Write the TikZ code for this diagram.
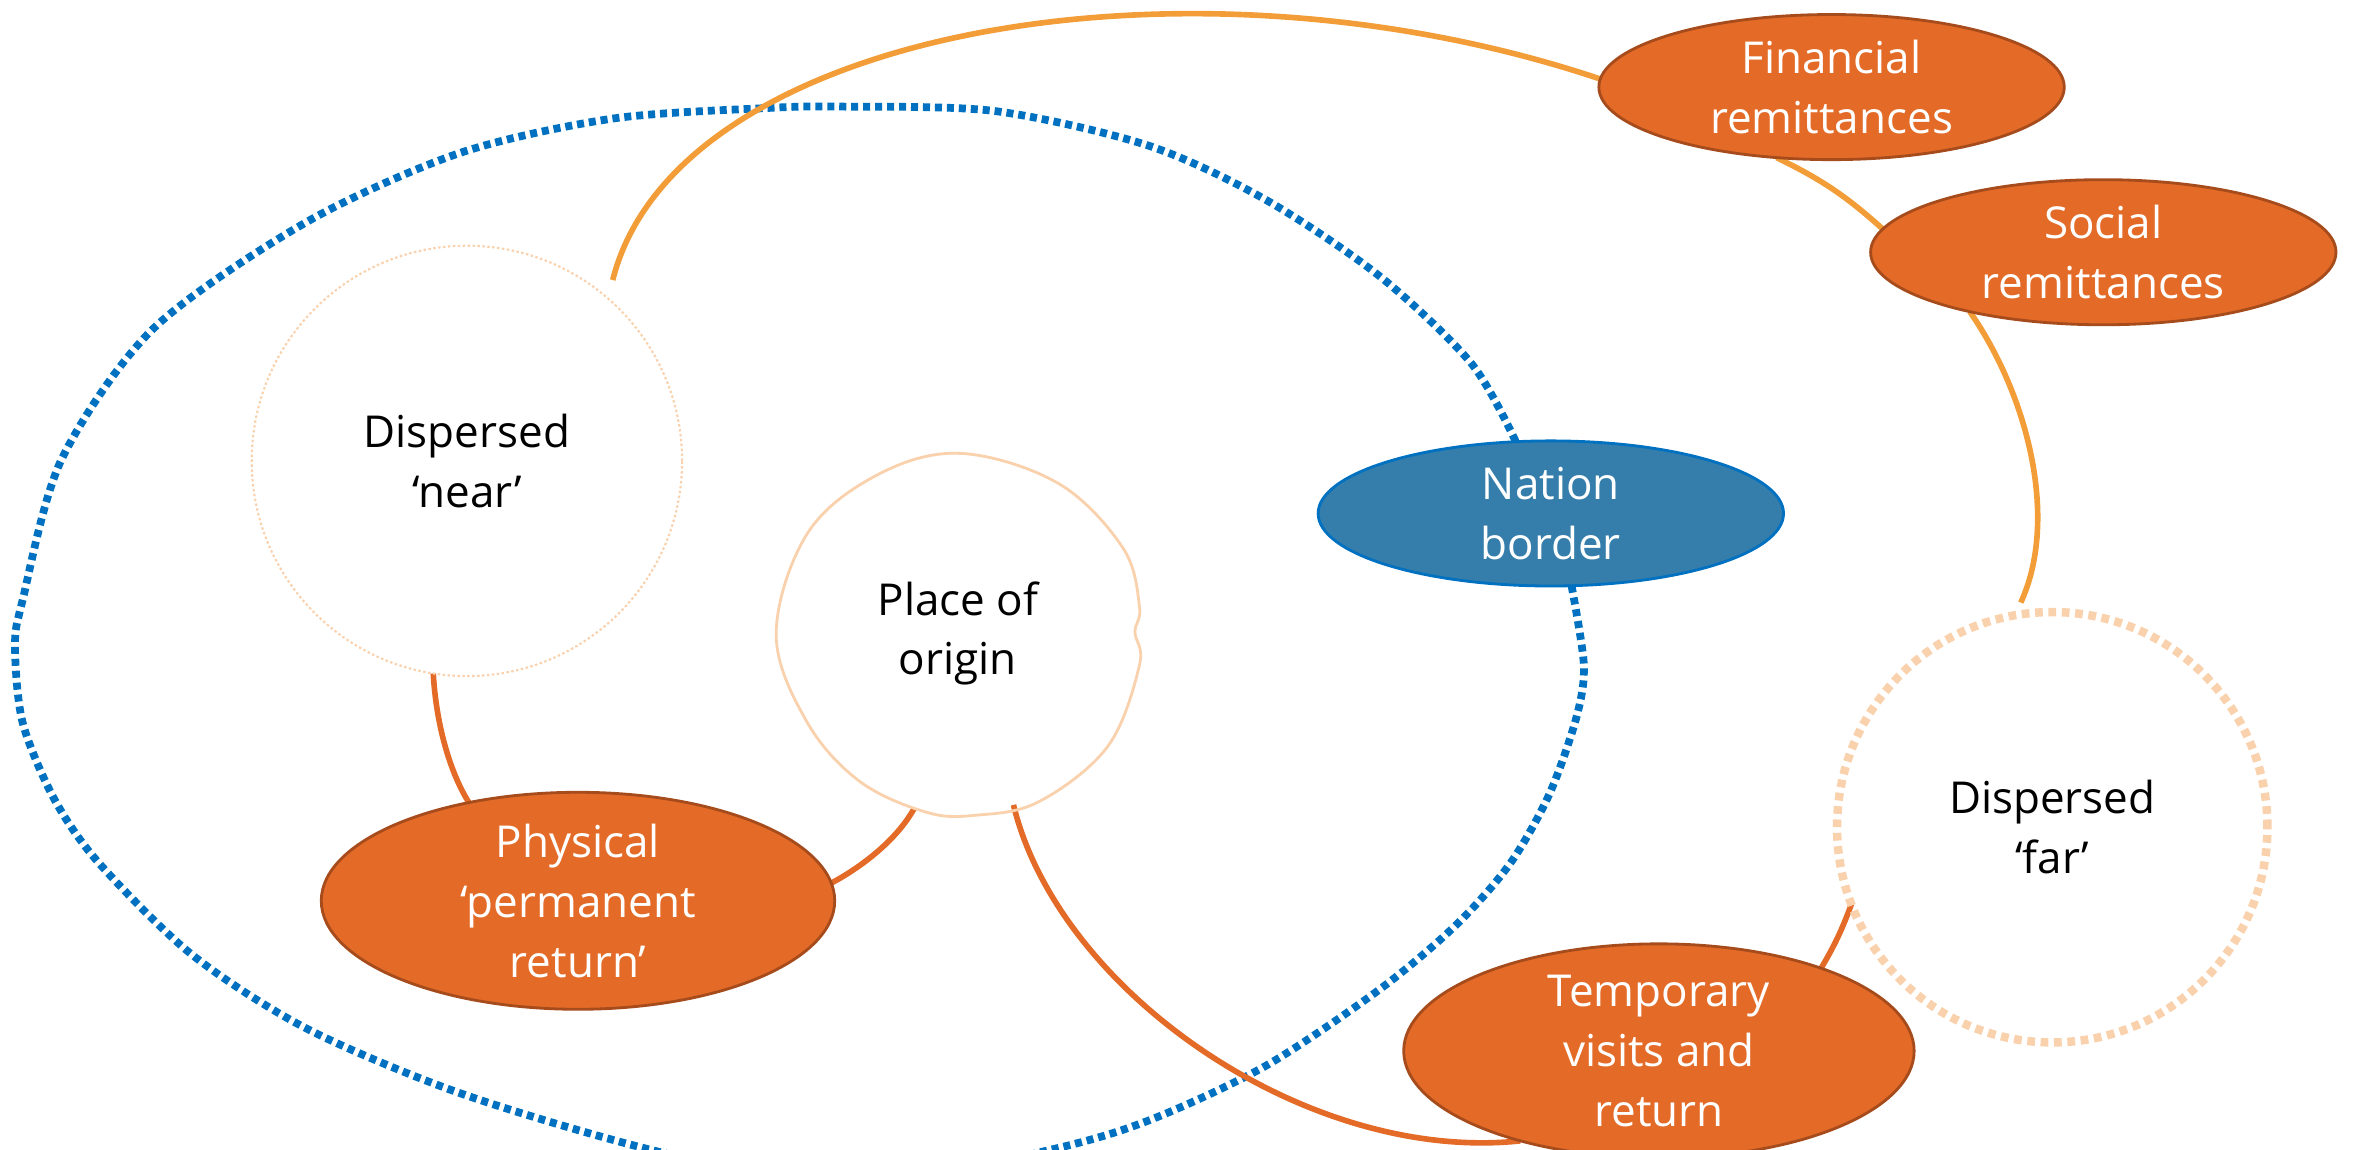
\documentclass[tikz,border=0pt]{standalone}
\usepackage{fontspec}
\setmainfont{Open Sans}
\usetikzlibrary{shapes.geometric,backgrounds}
\definecolor{rust}{HTML}{E36A27}
\definecolor{rustline}{HTML}{A64B1C}
\definecolor{amber}{HTML}{F29D38}
\definecolor{peach}{HTML}{F9D1AC}
\definecolor{steel}{HTML}{357EAB}
\definecolor{navy}{HTML}{0070C0}

\begin{document}
\begin{tikzpicture}[x=0.015cm, y=-0.015cm,
    every node/.style={font=\fontsize{12.5}{17}\selectfont, align=center, inner sep=0pt, outer sep=0pt},
    bubble/.style={ellipse, draw=rustline, line width=0.8pt, fill=rust, text=white, minimum width=4.65cm, minimum height=1.45cm},
    ring/.style={circle, minimum size=4.3cm},
    link/.style={rust, line width=1.6pt},
    arcline/.style={amber, line width=1.6pt}]
    \useasboundingbox (0,0) rectangle (1568,766);
    \node[bubble] (fin) at (1220,58) {Financial\\remittances};
    \node[bubble] (soc) at (1401,168) {Social\\remittances};
    \node[bubble, fill=steel, draw=navy] (nation) at (1033,342) {Nation\\border};
    \node[bubble, minimum width=5.13cm, minimum height=1.77cm] (phys) at (385,600) {Physical\\‘permanent\\return’};
    \node[bubble, minimum width=5.1cm, minimum height=1.74cm] (temp) at (1105,700) {Temporary\\visits and\\return};
    \node[ring, draw=peach, line width=0.6pt, dash pattern=on 0.7pt off 0.7pt] (near) at (311,307) {Dispersed\\‘near’};
    \node[ring, draw=peach, line width=2.4pt, dash pattern=on 2.2pt off 1.6pt] (far) at (1367,551) {Dispersed\\‘far’};
    \node[ring, minimum size=3.6cm] (origin) at (638,422) {Place of\\origin};
    \draw[peach, line width=0.8pt] plot[smooth cycle, tension=0.6] coordinates {(640,302) (705,322) (748,365) (759,404) (756,421) (759,443) (738,497) (692,534) (650,543) (617,541) (572,520) (537,480) (517,422) (538,355) (585,316)};
    \begin{pgfonlayer}{background}
    \begin{scope}
    \clip (0,0) rectangle (1568,766);
    \draw[navy, line width=2.2pt, dash pattern=on 2pt off 1.4pt] plot[smooth] coordinates {(nation.286) (1055,443) (1050,478) (1032,529) (1006,575) (970,616) (919,659) (843,710) (766,746) (699,766) (566,792) (434,766) (306,728) (204,685) (128,636) (66,575) (36,532) (15,481) (10,430) (15,400) (41,306) (102,219) (204,148) (306,102) (408,79) (510,72) (561,71) (663,74) (765,97) (843,133) (919,184) (980,242) (nation.116)};
    \draw[arcline, shorten <=0.19cm] (near.49) .. controls (450,20) and (790,-40) .. (fin.178);
    \draw[arcline] (fin.232) to[bend left=8] (soc.174);
    \draw[arcline, shorten >=0.14cm] (soc.204) .. controls (1350,262) and (1372,345) .. (far.100);
    \draw[link] (near.261) .. controls (291,490) and (303,520) .. (phys.138);
    \draw[link] (origin.256) .. controls (597,560) and (573,578) .. (phys.4);
    \draw[link] (origin.288) .. controls (705,660) and (870,775) .. (temp.213);
    \draw[link] (temp.27) to[bend right=5] (far.201);
    \end{scope}
    \end{pgfonlayer}
\end{tikzpicture}
\end{document}
